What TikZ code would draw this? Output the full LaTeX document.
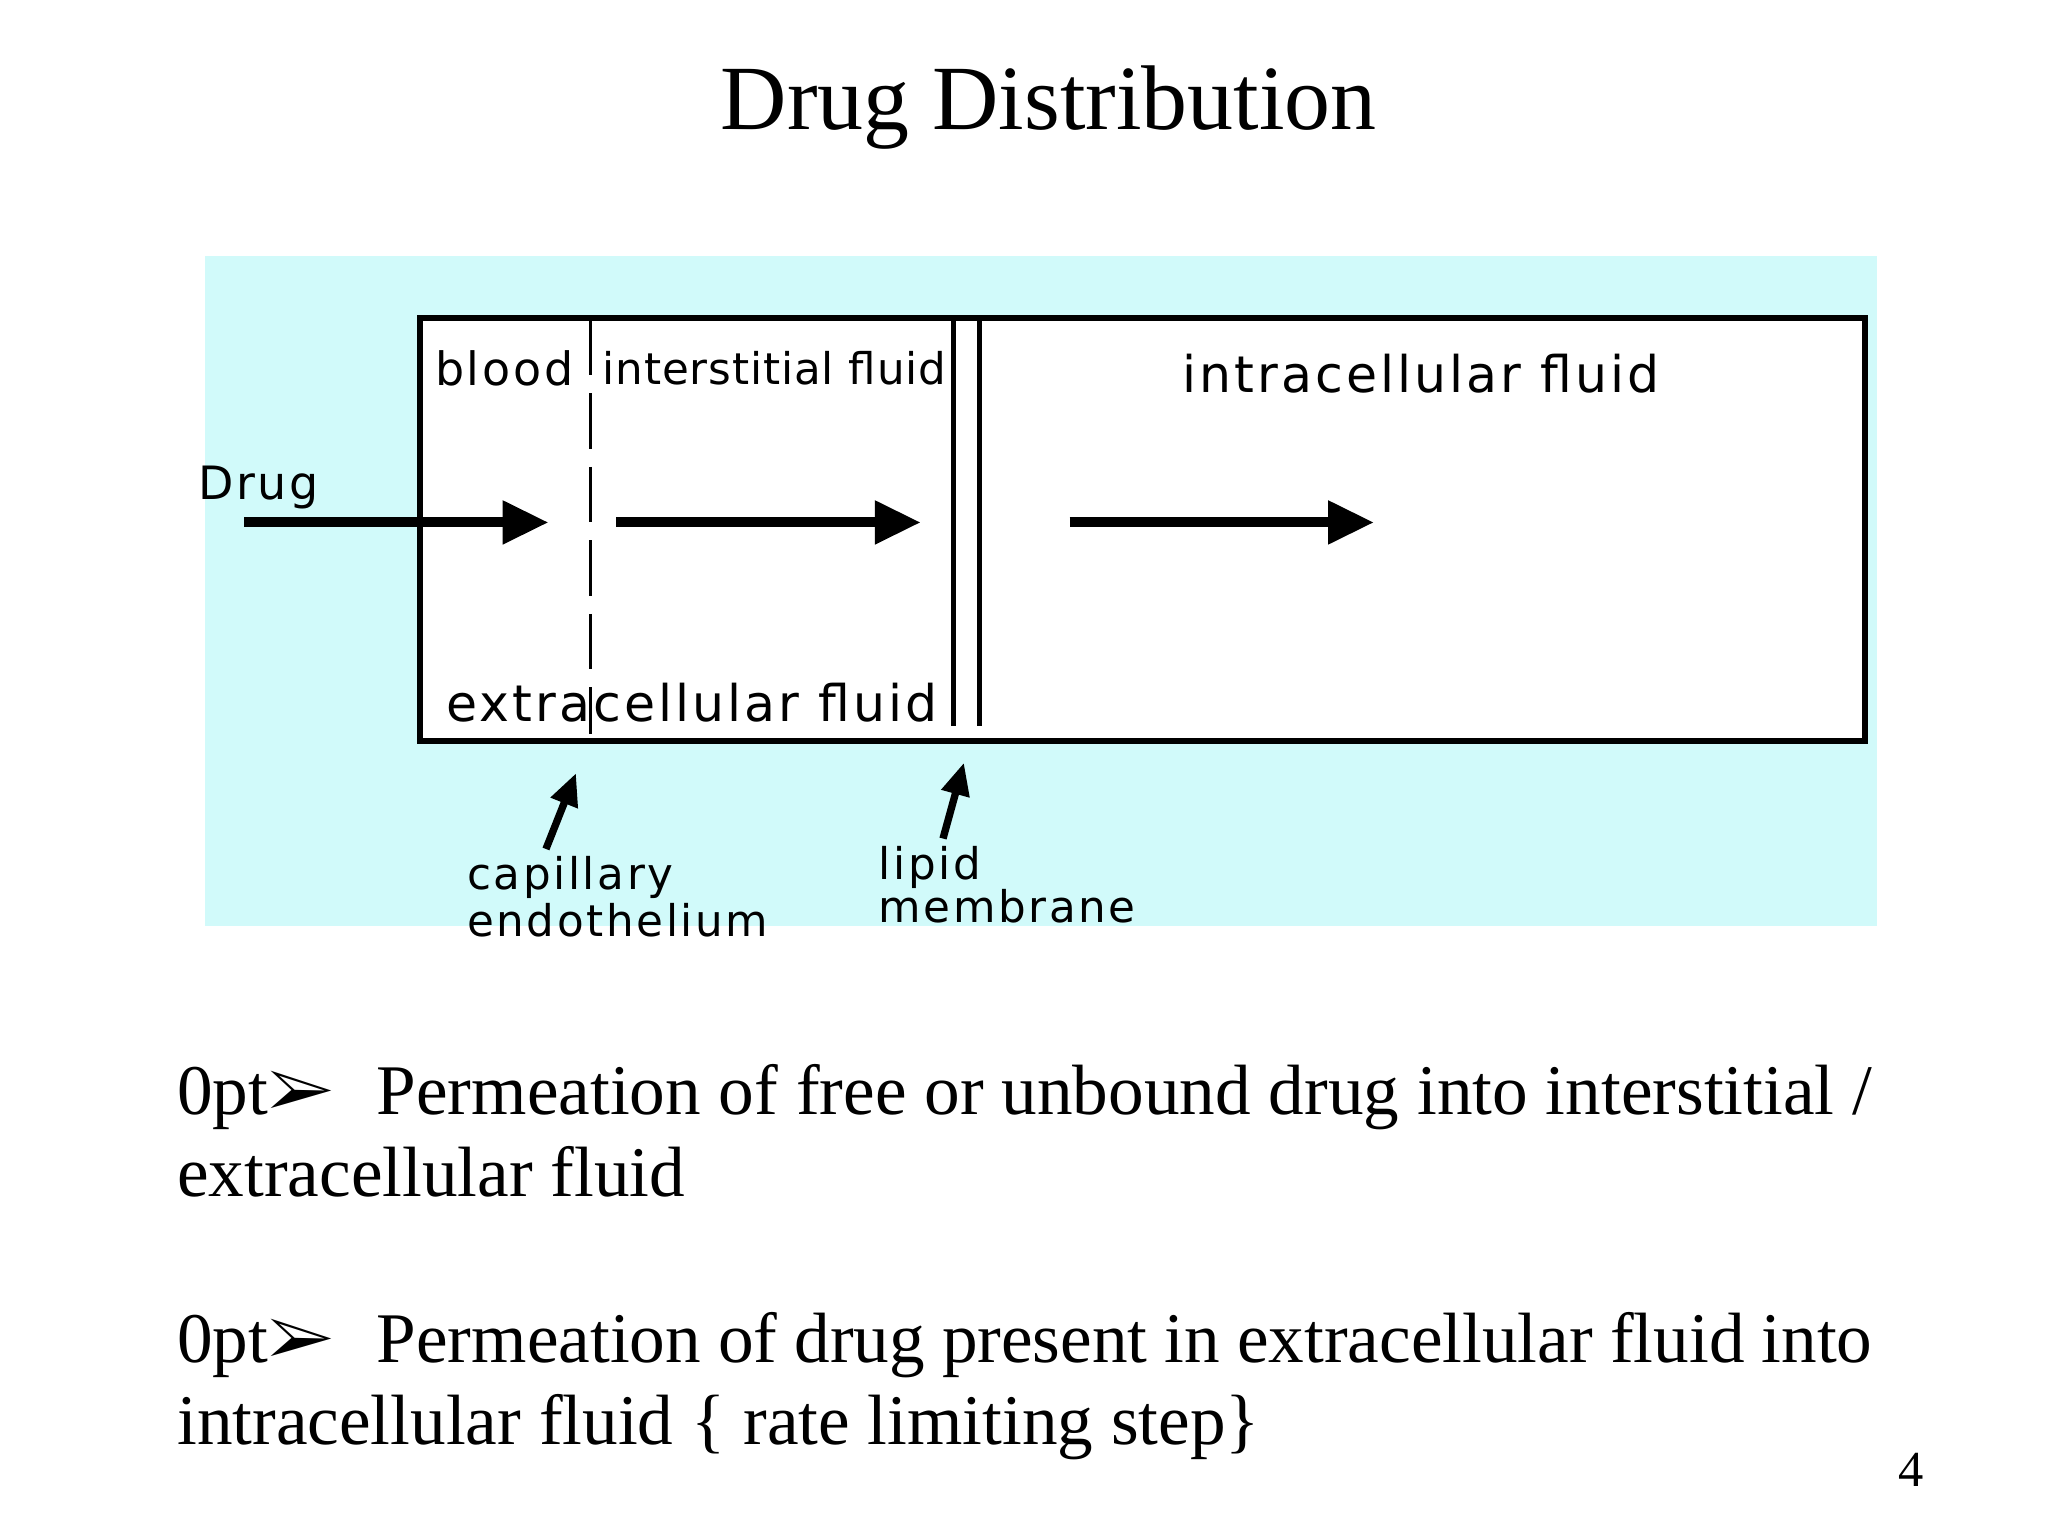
\documentclass[tikz,border=0pt]{standalone}
\usepackage{fontspec}
\usepackage{pifont}
\setmainfont{Liberation Serif}
\newfontfamily\lbl{DejaVu Sans}[LetterSpace=6]
\newfontfamily\lbltight{DejaVu Sans}[LetterSpace=2]
\usetikzlibrary{arrows.meta}
\definecolor{bgcyan}{rgb}{0.82,0.98,0.98}
\tikzset{
  lab/.style={font=\lbl\fontsize{10}{11}\selectfont, inner sep=0pt},
  big/.style={line width=2.2pt, -{Triangle[length=10pt,width=9pt]}},
  small/.style={line width=1.6pt, -{Triangle[length=7pt,width=6pt]}},
  body/.style={anchor=north west, inner sep=0pt, text width=12.97cm, align=justify, font=\fontsize{15.5}{17.9}\selectfont\hyphenpenalty=10000\exhyphenpenalty=10000},
}
\begin{document}
\begin{tikzpicture}[x=0.01cm,y=-0.01cm]
\useasboundingbox (0,0) rectangle (1568,1176);
\fill[bgcyan] (157,196) rectangle (1437,709);
\node[draw, line width=1.3pt, fill=white, minimum width=11.06cm, minimum height=3.24cm, anchor=north west, inner sep=0pt] (box) at (319,241) {};
\coordinate (d1) at (452,245); \coordinate (d2) at (452,562);
\draw[line width=0.8pt, dash pattern=on 12pt off 4pt] (d1) -- (d2);
\coordinate (m1) at (730,245); \coordinate (m2) at (730,556);
\coordinate (n1) at (750,245); \coordinate (n2) at (750,556);
\draw[line width=1pt] (m1) -- (m2) (n1) -- (n2);
\node[lab] (blood) at (386,282) {blood};
\node[lab, font=\lbltight\fontsize{9.5}{11}\selectfont] (inter) at (593,282) {interstitial fluid};
\node[lab, font=\lbl\fontsize{11}{12}\selectfont] (intra) at (1088,286) {intracellular fluid};
\node[lab, font=\lbl\fontsize{11}{12}\selectfont] (extra) at (530,538) {extracellular fluid};
\node[lab] (drug) at (198,373) {Drug};
\coordinate (a1s) at (187,400); \coordinate (a1e) at (420,400);
\coordinate (a2s) at (472,400); \coordinate (a2e) at (705,400);
\coordinate (a3s) at (819,400); \coordinate (a3e) at (1052,400);
\draw[big] (a1s) -- (a1e);
\draw[big] (a2s) -- (a2e);
\draw[big] (a3s) -- (a3e);
\node[lab, align=left, anchor=north west, font=\lbl\fontsize{9.5}{9}\selectfont] (cap) at (357,655) {capillary\\endothelium};
\node[lab, align=left, anchor=north west, font=\lbl\fontsize{9.5}{9.5}\selectfont] (lip) at (672,647) {lipid\\membrane};
\coordinate (c1) at (418,650); \coordinate (c2) at (441,592);
\coordinate (l1) at (722,642); \coordinate (l2) at (738,584);
\draw[small] (c1) -- (c2);
\draw[small] (l1) -- (l2);
\node[font=\fontsize{20}{24}\selectfont] (title) at (803,82) {Drug Distribution};
\node[body] (b1) at (135,814)
 {\ding{226}\hspace{0.6em}Permeation of free or unbound drug into interstitial / extracellular fluid};
\node[body] (b2) at (135,1004)
 {\ding{226}\hspace{0.6em}Permeation of drug present in extracellular fluid into intracellular fluid \{ rate limiting step\}};
\node[font=\fontsize{11}{12}\selectfont] (pg) at (1463,1125) {4};
\end{tikzpicture}
\end{document}
